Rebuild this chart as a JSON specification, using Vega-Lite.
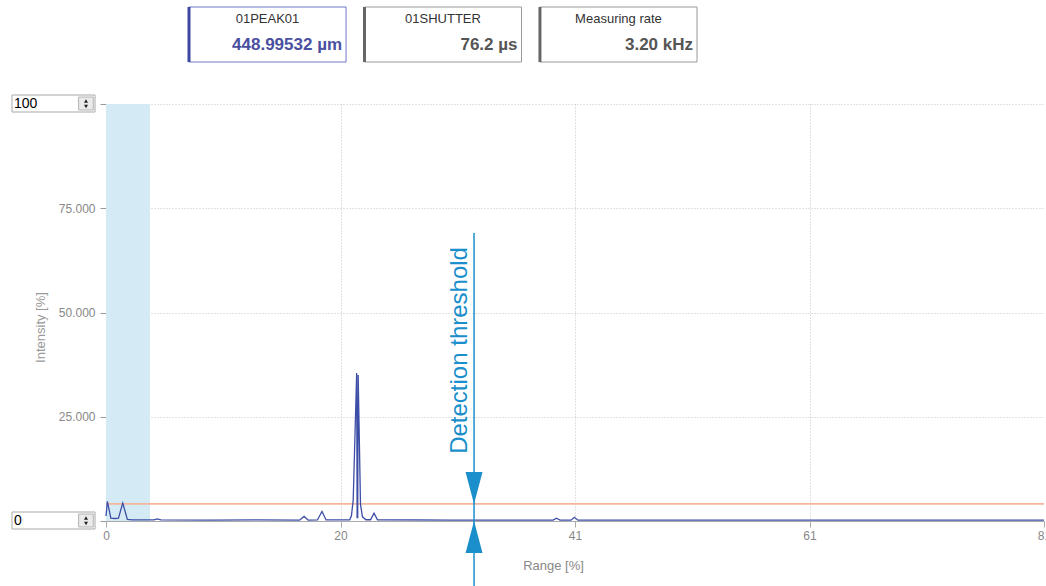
{
  "$schema": "https://vega.github.io/schema/vega-lite/v6.json",
  "width": 938,
  "height": 417,
  "autosize": {"type": "none"},
  "padding": {"left": 106, "top": 104, "right": 2, "bottom": 65},
  "config": {
    "view": {"stroke": null},
    "font": "Liberation Sans"
  },
  "datasets": {
    "profile": [
      {"x": 0, "y": 1.2},
      {"x": 0.12, "y": 4.7},
      {"x": 0.42, "y": 0.7},
      {"x": 0.8, "y": 0.6},
      {"x": 1.08, "y": 0.7},
      {"x": 1.45, "y": 4.3},
      {"x": 1.85, "y": 0.4},
      {"x": 2.3, "y": 0.25},
      {"x": 4.15, "y": 0.25},
      {"x": 4.45, "y": 0.5},
      {"x": 4.75, "y": 0.25},
      {"x": 9, "y": 0.2},
      {"x": 13, "y": 0.25},
      {"x": 16.75, "y": 0.2},
      {"x": 17.15, "y": 1.1},
      {"x": 17.5, "y": 0.2},
      {"x": 18.3, "y": 0.25},
      {"x": 18.7, "y": 2.3},
      {"x": 19.05, "y": 0.25},
      {"x": 21.1, "y": 0.3},
      {"x": 21.25, "y": 1.3},
      {"x": 21.4, "y": 5},
      {"x": 21.7, "y": 35.5},
      {"x": 21.74, "y": 0.8},
      {"x": 21.79, "y": 0.8},
      {"x": 21.83, "y": 35},
      {"x": 22.03, "y": 4},
      {"x": 22.2, "y": 1},
      {"x": 22.5, "y": 0.3},
      {"x": 22.9, "y": 0.3},
      {"x": 23.2, "y": 1.9},
      {"x": 23.5, "y": 0.3},
      {"x": 30, "y": 0.2},
      {"x": 38.7, "y": 0.2},
      {"x": 39.0, "y": 0.65},
      {"x": 39.3, "y": 0.2},
      {"x": 40.25, "y": 0.2},
      {"x": 40.55, "y": 0.9},
      {"x": 40.85, "y": 0.2},
      {"x": 50, "y": 0.2},
      {"x": 60, "y": 0.2},
      {"x": 70, "y": 0.2},
      {"x": 81.2, "y": 0.2}
    ],
    "boxes": [
      {"name": "01PEAK01", "value": "448.99532 µm"},
      {"name": "01SHUTTER", "value": "76.2 µs"},
      {"name": "Measuring rate", "value": "3.20 kHz"}
    ],
    "spin": [
      {"v": 100, "label": "100"},
      {"v": 0, "label": "0"}
    ],
    "one": [{}]
  },
  "layer": [
    {
      "layer": [
        {
          "data": {"name": "one"},
          "mark": {"type": "rect", "color": "#d4eaf4"},
          "encoding": {
            "x": {"datum": 0, "type": "quantitative", "scale": {"domain": [0, 81.2], "nice": false, "zero": false}},
            "x2": {"datum": 3.81},
            "y": {"datum": 0, "type": "quantitative", "scale": {"domain": [0, 100], "nice": false, "zero": false}},
            "y2": {"datum": 100}
          }
        },
        {
          "data": {"name": "one"},
          "mark": {"type": "rule", "color": "#f5b69c", "strokeWidth": 1.6},
          "encoding": {
            "y": {"datum": 4.1, "type": "quantitative", "scale": {"domain": [0, 100], "nice": false, "zero": false}}
          }
        },
        {
          "data": {"name": "profile"},
          "mark": {"type": "line", "color": "#3d4ea6", "strokeWidth": 1.3},
          "encoding": {
            "x": {
              "field": "x", "type": "quantitative",
              "scale": {"domain": [0, 81.2], "nice": false, "zero": false},
              "axis": {
                "values": [0, 20.3, 40.6, 60.9, 81.2],
                "format": ".0f",
                "title": "Range [%]",
                "grid": true,
                "gridDash": [1, 2],
                "gridColor": "#c4c4c4",
                "gridOpacity": {"condition": {"test": "datum.value == 0 || datum.value > 81", "value": 0}, "value": 1},
                "tickColor": "#aaaaaa",
                "tickSize": 6,
                "domainColor": "#aaaaaa",
                "labelColor": "#888888",
                "labelFontSize": 12,
                "labelPadding": 3,
                "labelFlush": false,
                "titleColor": "#888888",
                "titleFontSize": 13,
                "titleFontWeight": "normal",
                "titlePadding": 18,
                "titleX": 447
              }
            },
            "y": {
              "field": "y", "type": "quantitative",
              "scale": {"domain": [0, 100], "nice": false, "zero": false},
              "axis": {
                "values": [0, 25, 50, 75, 100],
                "labelExpr": "datum.value == 0 || datum.value == 100 ? '' : format(datum.value, '.3f')",
                "title": "Intensity [%]",
                "grid": true,
                "gridDash": [1, 2],
                "gridColor": "#c4c4c4",
                "gridOpacity": {"condition": {"test": "datum.value == 0", "value": 0}, "value": 1},
                "tickColor": "#999999",
                "tickSize": 6,
                "domainColor": "#aaaaaa",
                "labelColor": "#888888",
                "labelFontSize": 12,
                "labelPadding": 5,
                "titleColor": "#999999",
                "titleFontSize": 13,
                "titleFontWeight": "normal",
                "titlePadding": 11,
                "titleY": 223
              }
            }
          }
        },
        {
          "data": {"name": "one"},
          "mark": {"type": "rule", "color": "#1a8fcb", "strokeWidth": 1.5, "clip": false},
          "encoding": {
            "x": {"datum": 31.86, "type": "quantitative", "scale": {"domain": [0, 81.2], "nice": false, "zero": false}},
            "y": {"datum": 69.06, "type": "quantitative", "scale": {"domain": [0, 100], "nice": false, "zero": false}},
            "y2": {"datum": -16}
          }
        },
        {
          "data": {"name": "one"},
          "mark": {"type": "point", "shape": "M-0.53,-2L0.53,-2L0,0Z", "size": 1024, "filled": true, "opacity": 1, "color": "#1a8fcb", "strokeWidth": 0, "clip": false},
          "encoding": {
            "x": {"datum": 31.86, "type": "quantitative", "scale": {"domain": [0, 81.2], "nice": false, "zero": false}},
            "y": {"datum": 4.1, "type": "quantitative", "scale": {"domain": [0, 100], "nice": false, "zero": false}}
          }
        },
        {
          "data": {"name": "one"},
          "mark": {"type": "point", "shape": "M-0.53,2L0.53,2L0,0Z", "size": 1024, "filled": true, "opacity": 1, "color": "#1a8fcb", "strokeWidth": 0, "clip": false},
          "encoding": {
            "x": {"datum": 31.86, "type": "quantitative", "scale": {"domain": [0, 81.2], "nice": false, "zero": false}},
            "y": {"datum": 0, "type": "quantitative", "scale": {"domain": [0, 100], "nice": false, "zero": false}}
          }
        },
        {
          "data": {"name": "one"},
          "mark": {"type": "text", "text": "Detection threshold", "angle": 270, "align": "center", "baseline": "alphabetic", "fontSize": 24, "font": "Liberation Sans", "color": "#1a8fcb", "clip": false},
          "encoding": {
            "x": {"datum": 31.25, "type": "quantitative", "scale": {"domain": [0, 81.2], "nice": false, "zero": false}},
            "y": {"datum": 40.9, "type": "quantitative", "scale": {"domain": [0, 100], "nice": false, "zero": false}}
          }
        },
        {
          "data": {"name": "spin"},
          "mark": {"type": "rect", "fill": "#ffffff", "stroke": "#a8a8a8", "strokeWidth": 1, "yOffset": -9, "y2Offset": 8, "clip": false},
          "encoding": {
            "x": {"datum": -8.14, "type": "quantitative", "scale": {"domain": [0, 81.2], "nice": false, "zero": false}},
            "x2": {"datum": -0.95},
            "y": {"field": "v", "type": "quantitative", "title": "Intensity [%]", "scale": {"domain": [0, 100], "nice": false, "zero": false}},
            "y2": {"field": "v"}
          }
        },
        {
          "data": {"name": "spin"},
          "mark": {"type": "rect", "fill": "#eaeaea", "stroke": "#b4b4b4", "strokeWidth": 1, "yOffset": -7, "y2Offset": 6, "clip": false},
          "encoding": {
            "x": {"datum": -2.37, "type": "quantitative", "scale": {"domain": [0, 81.2], "nice": false, "zero": false}},
            "x2": {"datum": -1.1},
            "y": {"field": "v", "type": "quantitative", "title": "Intensity [%]", "scale": {"domain": [0, 100], "nice": false, "zero": false}},
            "y2": {"field": "v"}
          }
        },
        {
          "data": {"name": "spin"},
          "mark": {"type": "point", "shape": "triangle-up", "size": 16, "filled": true, "opacity": 1, "color": "#222222", "yOffset": -3, "clip": false},
          "encoding": {
            "x": {"datum": -1.73, "type": "quantitative", "scale": {"domain": [0, 81.2], "nice": false, "zero": false}},
            "y": {"field": "v", "type": "quantitative", "title": "Intensity [%]", "scale": {"domain": [0, 100], "nice": false, "zero": false}}
          }
        },
        {
          "data": {"name": "spin"},
          "mark": {"type": "point", "shape": "triangle-down", "size": 16, "filled": true, "opacity": 1, "color": "#222222", "yOffset": 2.5, "clip": false},
          "encoding": {
            "x": {"datum": -1.73, "type": "quantitative", "scale": {"domain": [0, 81.2], "nice": false, "zero": false}},
            "y": {"field": "v", "type": "quantitative", "title": "Intensity [%]", "scale": {"domain": [0, 100], "nice": false, "zero": false}}
          }
        },
        {
          "data": {"name": "spin"},
          "mark": {"type": "text", "align": "left", "baseline": "middle", "dx": 2, "yOffset": -0.5, "fontSize": 14, "color": "#000000", "clip": false},
          "encoding": {
            "x": {"datum": -8.14, "type": "quantitative", "scale": {"domain": [0, 81.2], "nice": false, "zero": false}},
            "y": {"field": "v", "type": "quantitative", "title": "Intensity [%]", "scale": {"domain": [0, 100], "nice": false, "zero": false}},
            "text": {"field": "label"}
          }
        }
      ]
    },
    {
      "data": {"name": "boxes"},
      "layer": [
        {
          "mark": {"type": "rect", "fill": "#ffffff", "strokeWidth": 1, "clip": false},
          "encoding": {
            "x": {"field": "name", "type": "nominal", "axis": null, "sort": null,
              "scale": {"type": "band", "domain": ["01PEAK01", "01SHUTTER", "Measuring rate"], "range": [83, 591], "paddingInner": 0.105, "paddingOuter": 0}},
            "y": {"datum": 123.26, "type": "quantitative", "scale": {"domain": [0, 100], "nice": false, "zero": false}},
            "y2": {"datum": 110.07},
            "stroke": {"condition": {"test": "datum.name === '01PEAK01'", "value": "#6e78c8"}, "value": "#9a9a9a"}
          }
        },
        {
          "mark": {"type": "rule", "strokeWidth": 3, "clip": false},
          "encoding": {
            "x": {"field": "name", "type": "nominal", "axis": null, "sort": null, "bandPosition": 0,
              "scale": {"type": "band", "domain": ["01PEAK01", "01SHUTTER", "Measuring rate"], "range": [83, 591], "paddingInner": 0.105, "paddingOuter": 0}},
            "y": {"datum": 123.26, "type": "quantitative", "scale": {"domain": [0, 100], "nice": false, "zero": false}},
            "y2": {"datum": 110.07},
            "color": {"condition": {"test": "datum.name === '01PEAK01'", "value": "#3c48a0"}, "value": "#666666"}
          }
        },
        {
          "mark": {"type": "text", "align": "center", "baseline": "middle", "fontSize": 13, "color": "#333333", "clip": false},
          "encoding": {
            "x": {"field": "name", "type": "nominal", "axis": null, "sort": null,
              "scale": {"type": "band", "domain": ["01PEAK01", "01SHUTTER", "Measuring rate"], "range": [83, 591], "paddingInner": 0.105, "paddingOuter": 0}},
            "y": {"datum": 120.4, "type": "quantitative", "scale": {"domain": [0, 100], "nice": false, "zero": false}},
            "text": {"field": "name"}
          }
        },
        {
          "mark": {"type": "text", "align": "right", "baseline": "middle", "dx": -4, "fontSize": 17, "fontWeight": "bold", "clip": false},
          "encoding": {
            "x": {"field": "name", "type": "nominal", "axis": null, "sort": null, "bandPosition": 1,
              "scale": {"type": "band", "domain": ["01PEAK01", "01SHUTTER", "Measuring rate"], "range": [83, 591], "paddingInner": 0.105, "paddingOuter": 0}},
            "y": {"datum": 114.1, "type": "quantitative", "scale": {"domain": [0, 100], "nice": false, "zero": false}},
            "text": {"field": "value"},
            "color": {"condition": {"test": "datum.name === '01PEAK01'", "value": "#4a4f9f"}, "value": "#555555"}
          }
        }
      ]
    }
  ],
  "resolve": {"scale": {"x": "independent"}}
}
